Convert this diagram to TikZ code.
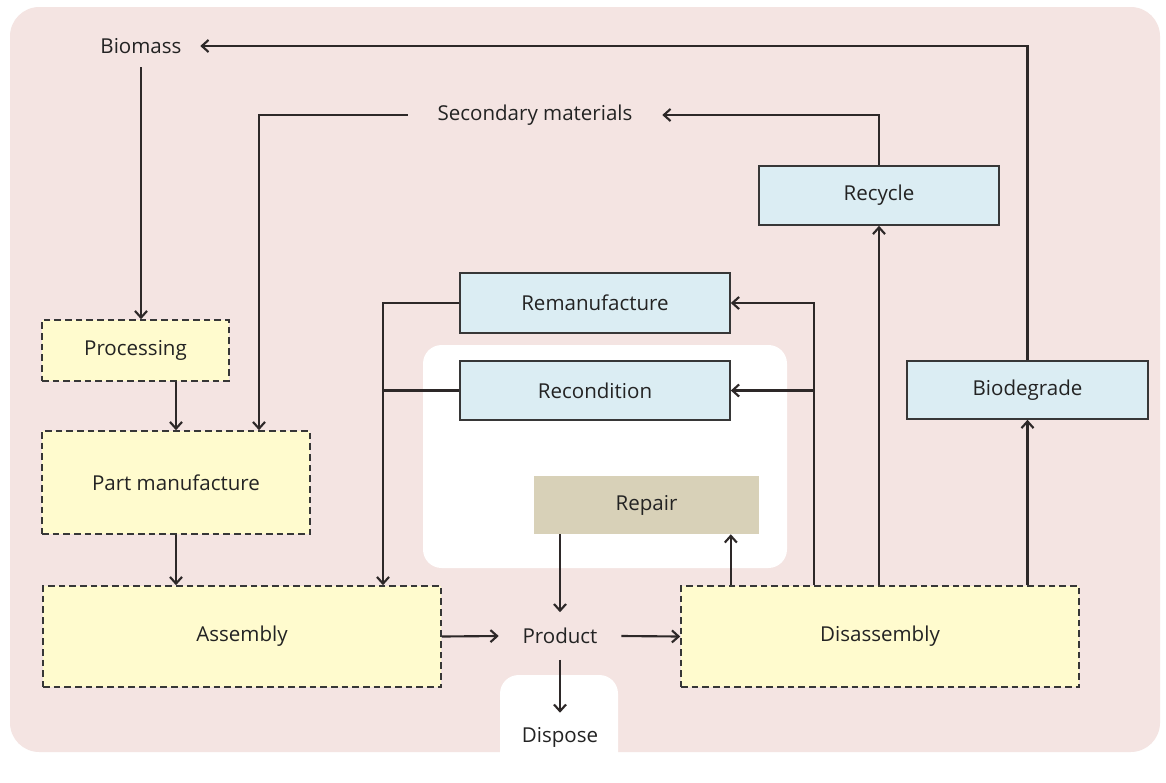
\documentclass[tikz,border=0pt]{standalone}
\usepackage{fontspec}
\setmainfont{Open Sans}
\usetikzlibrary{arrows.meta}
\definecolor{bgpink}{RGB}{244,228,226}
\definecolor{stagefill}{RGB}{255,251,206}
\definecolor{loopfill}{RGB}{219,237,243}
\definecolor{repairfill}{RGB}{216,209,184}
\definecolor{edge}{RGB}{55,55,55}
\definecolor{wire}{RGB}{45,40,40}
\definecolor{txt}{RGB}{35,35,35}
\begin{document}
\begin{tikzpicture}[x=0.75pt,y=-0.75pt,
  wh/.style 2 args={minimum width=#1*0.75pt,minimum height=#2*0.75pt},
  base/.style={inner sep=0pt, text=txt, font=\fontsize{15.4}{17}\selectfont},
  stagebox/.style={base, draw=edge, line width=1.2pt, dash pattern=on 5pt off 3pt, fill=stagefill},
  loopbox/.style={base, draw=edge, line width=1.2pt, fill=loopfill},
  repairbox/.style={base, fill=repairfill},
  plain/.style={base},
  arr/.style={draw=wire, line width=1.6pt, -{Straight Barb[length=5pt,width=9pt,line width=1.6pt]}},
  link/.style={draw=wire, line width=1.6pt}]
\useasboundingbox (0,0) rectangle (1166,782);
% backdrop and panels
\fill[white] (0,0) rectangle (1166,782);
\fill[bgpink, rounded corners=22pt] (10,7) rectangle (1160,752);
\fill[white, rounded corners=14pt] (423,345) rectangle (787,568);
\fill[white, rounded corners=14pt] (500,675) rectangle (618,800);

% free text labels
\node[plain, wh={118}{42}] (biomass) at (141,46) {Biomass};
\node[plain, wh={254}{30}] (secmat) at (535,115) {Secondary materials};
\node[plain, wh={122}{47}] (product) at (560,636) {Product};
\node[plain, wh={60}{48}] (dispose) at (560,737) {Dispose};

% life-cycle stages (dashed)
\node[stagebox, wh={187}{61}] (proc) at (135.5,350.5) {Processing};
\node[stagebox, wh={268}{103}] (part) at (176,482.5) {Part manufacture};
\node[stagebox, wh={398}{101}] (asm) at (242,636.5) {Assembly};
\node[stagebox, wh={398}{101}] (disasm) at (880,636.5) {Disassembly};

% recovery loops
\node[loopbox, wh={270}{60}] (reman) at (595,303) {Remanufacture};
\node[loopbox, wh={270}{59}] (recon) at (595,390.5) {Recondition};
\node[repairbox, wh={225}{58}] (repair) at (646.5,505) {Repair};
\node[loopbox, wh={240}{59}] (recycle) at (879,195.5) {Recycle};
\node[loopbox, wh={241}{58}] (biodeg) at (1027.5,390) {Biodegrade};

% turning points
\coordinate (secturn) at (259,115);
\coordinate (rmturn) at (383,303);
\coordinate (rtop) at (814,303);

% forward chain
\draw[arr] (biomass.south) -- (biomass.south |- proc.north);
\draw[arr] (part.north |- proc.south) -- (part.north);
\draw[arr] (part.south) -- (part.south |- asm.north);
\draw[arr] (secmat.west) -- (secturn) -- (secturn |- part.north);
\draw[arr] (asm.east) -- (product.west);
\draw[arr] (product.east) -- (disasm.west);
\draw[arr] (product.south) -- (dispose.north);

% return loops
\draw[arr] (reman.west) -- (rmturn) -- (rmturn |- asm.north);
\draw[link] (recon.west) -- (recon.west -| rmturn);
\draw[arr] (product.north |- repair.south) -- (product.north);
\draw[arr] (reman.east |- disasm.north) -- (reman.east |- repair.south);
\draw[arr] (rtop |- disasm.north) -- (rtop) -- (reman.east);
\draw[arr] (rtop |- recon.east) -- (recon.east);
\draw[arr] (recycle.south |- disasm.north) -- (recycle.south);
\draw[arr] (biodeg.south |- disasm.north) -- (biodeg.south);
\draw[arr] (recycle.north) |- (secmat.east);
\draw[arr] (biodeg.north) |- (biomass.east);
\end{tikzpicture}
\end{document}
